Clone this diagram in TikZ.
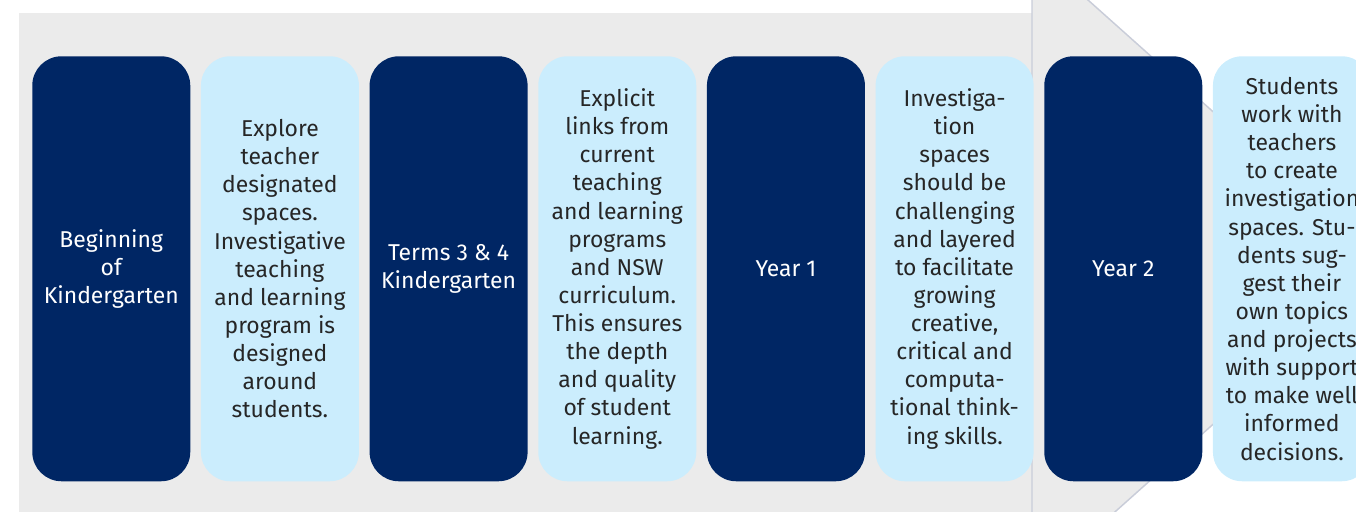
\documentclass[tikz,border=0pt]{standalone}
\usepackage{fontspec}
\setsansfont{Fira Sans}
\usetikzlibrary{positioning}

\definecolor{navy}{HTML}{002664}
\definecolor{paleblue}{HTML}{CBEDFD}
\definecolor{backgrey}{HTML}{EBEBEB}
\definecolor{edgegrey}{HTML}{C9CDD9}
\definecolor{ink}{HTML}{262626}

\begin{document}
\begin{tikzpicture}
	[x=0.75pt, y=-0.75pt,
	stage/.style={rectangle, rounded corners=22pt, minimum width=118.5pt,
		minimum height=318.75pt, inner sep=0pt, align=center,
		font=\sffamily\fontsize{17.2}{21.1}\selectfont},
	year/.style={stage, fill=navy, text=white},
	detail/.style={stage, fill=paleblue, text=ink}]
	\useasboundingbox (0,0) rectangle (1356,511);
	\clip (0,0) rectangle (1356,511);
	% arrow behind the stages
	\fill[backgrey] (19,13) rectangle (1040,520);
	\filldraw[fill=backgrey, draw=edgegrey, line width=1.1pt]
		(1032,-50) -- (1388,268) -- (1032,586) -- cycle;
	\node[year, anchor=north west] (kinder) at (32,56) {Beginning\\of\\Kindergarten};
	\node[detail, right=7.6pt of kinder] (explore) {Explore\\teacher\\designated\\spaces.\\Investigative\\teaching\\and learning\\program is\\designed\\around\\students.};
	\node[year, right=7.6pt of explore] (terms) {Terms 3 \& 4\\Kindergarten};
	\node[detail, right=7.6pt of terms] (links) {Explicit\\links from\\current\\teaching\\and learning\\programs\\and NSW\\curriculum.\\This ensures\\the depth\\and quality\\of student\\learning.};
	\node[year, right=7.6pt of links] (yearone) {Year 1};
	\node[detail, right=7.6pt of yearone] (spaces) {Investiga-\\tion\\spaces\\should be\\challenging\\and layered\\to facilitate\\growing\\creative,\\critical and\\computa-\\tional think-\\ing skills.};
	\node[year, right=7.6pt of spaces] (yeartwo) {Year 2};
	\node[detail, right=7.6pt of yeartwo] (create) {Students\\work with\\teachers\\to create\\investigation\\spaces. Stu-\\dents sug-\\gest their\\own topics\\and projects\\with support\\to make well\\informed\\decisions.};
\end{tikzpicture}
\end{document}
